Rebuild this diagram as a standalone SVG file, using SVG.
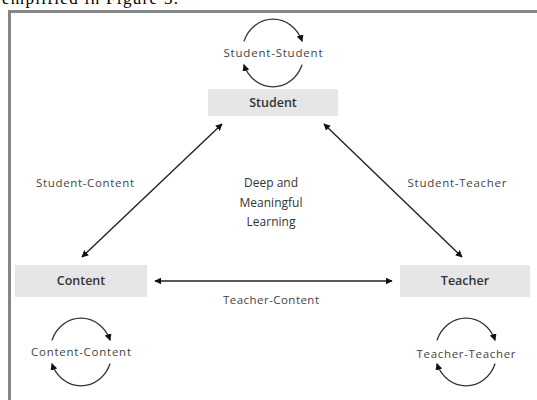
<svg xmlns="http://www.w3.org/2000/svg" width="537" height="400" viewBox="0 0 537 400">
<style>
.box{fill:#e6e6e6;}
.node{font-family:"Open Sans","Liberation Sans",sans-serif;font-size:12.5px;font-weight:600;fill:#333;text-anchor:middle;}
.lbl{font-family:"Open Sans","Liberation Sans",sans-serif;font-size:11.5px;fill:#444;text-anchor:middle;}
.mid{font-family:"Open Sans","Liberation Sans",sans-serif;font-size:12px;fill:#333;text-anchor:middle;}
.ln{stroke:#222;stroke-width:1.4;fill:none;}
.loop{stroke:#333;stroke-width:1.4;fill:none;marker-end:url(#ah);}
</style>
<defs>
<marker id="ah" viewBox="0 0 10 10" refX="9" refY="5" markerWidth="7" markerHeight="7" markerUnits="userSpaceOnUse" orient="auto-start-reverse">
<path d="M0,0 L10,5 L0,10 z" fill="#111"/>
</marker>
</defs>
<rect width="537" height="400" fill="#fff"/>
<text x="2" y="4" font-family="'Liberation Serif',serif" font-size="17" fill="#000" textLength="176">emplified in Figure 3.</text>
<g id="frame" stroke="#858585" stroke-width="3" fill="none">
<line x1="8" y1="11.5" x2="537" y2="11.5"/>
<line x1="9.5" y1="10" x2="9.5" y2="400"/>
</g>
<g id="connectors">
<line class="ln" x1="82" y1="257" x2="222" y2="124" marker-start="url(#ah)" marker-end="url(#ah)"/>
<line class="ln" x1="462" y1="257" x2="324" y2="124" marker-start="url(#ah)" marker-end="url(#ah)"/>
<line class="ln" x1="155" y1="281" x2="392" y2="281" marker-start="url(#ah)" marker-end="url(#ah)"/>
<text class="lbl" x="85" y="187" textLength="98">Student-Content</text>
<text class="lbl" x="457" y="187" textLength="99">Student-Teacher</text>
<text class="lbl" x="271" y="304" textLength="96">Teacher-Content</text>
</g>
<g id="student">
<rect class="box" x="208" y="89" width="130" height="27"/>
<text class="node" x="273" y="107">Student</text>
</g>
<g id="student-loop">
<path class="loop" d="M243.9,41.4 A31,34 0 0 1 302.1,41.4"/>
<path class="loop" d="M302.1,64.6 A31,34 0 0 1 243.9,64.6"/>
<text class="lbl" x="273" y="57" textLength="99">Student-Student</text>
</g>
<g id="content">
<rect class="box" x="15" y="265" width="132" height="32"/>
<text class="node" x="81" y="285">Content</text>
</g>
<g id="content-loop">
<path class="loop" d="M51.9,340.4 A31,34 0 0 1 110.1,340.4"/>
<path class="loop" d="M110.1,363.6 A31,34 0 0 1 51.9,363.6"/>
<text class="lbl" x="81" y="356" textLength="100">Content-Content</text>
</g>
<g id="teacher">
<rect class="box" x="400" y="265" width="130" height="32"/>
<text class="node" x="465" y="285">Teacher</text>
</g>
<g id="teacher-loop">
<path class="loop" d="M436.9,340.4 A31,34 0 0 1 495.1,340.4"/>
<path class="loop" d="M495.1,363.6 A31,34 0 0 1 436.9,363.6"/>
<text class="lbl" x="466" y="358" textLength="99">Teacher-Teacher</text>
</g>
<g id="center">
<text class="mid" x="271" y="187">Deep and</text>
<text class="mid" x="271" y="207">Meaningful</text>
<text class="mid" x="271" y="226">Learning</text>
</g>
</svg>
